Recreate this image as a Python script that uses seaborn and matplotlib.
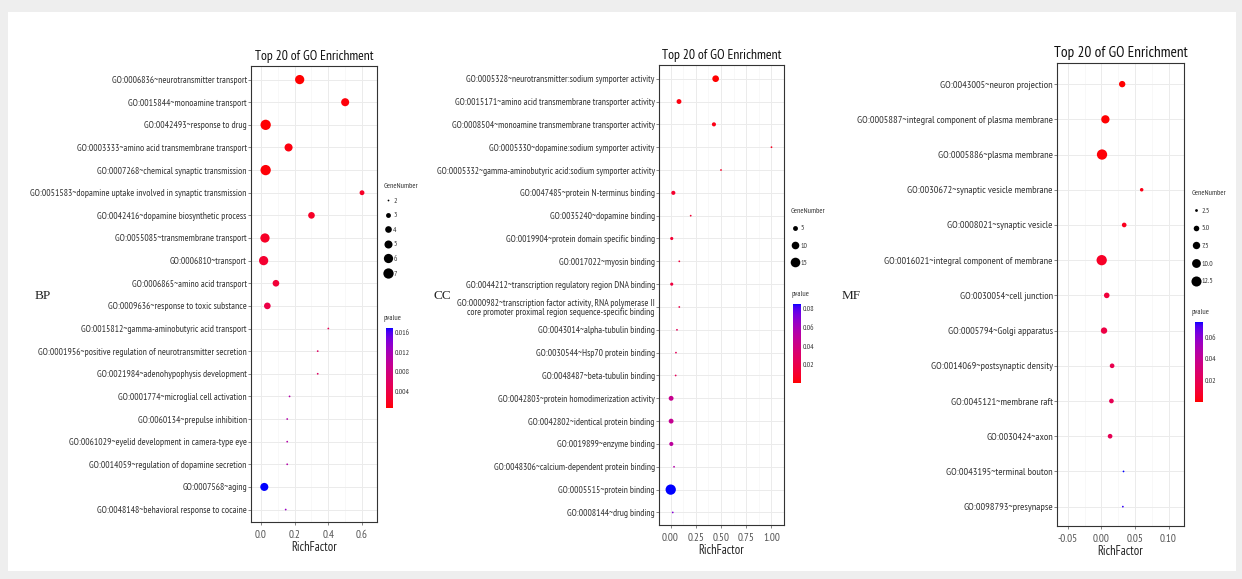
import numpy as np
import pandas as pd
import matplotlib
matplotlib.use("Agg")
import matplotlib.pyplot as plt
import matplotlib.ticker as mticker
import seaborn as sns
from matplotlib.colors import ListedColormap, Normalize
from matplotlib.cm import ScalarMappable
from matplotlib.lines import Line2D
from matplotlib.patches import Rectangle

sns.set_theme(style="white")
plt.rcParams['font.family'] = ['PT Sans Narrow', 'DejaVu Sans']

# ---------------- data ----------------
bp_terms = [
    "GO:0006836~neurotransmitter transport",
    "GO:0015844~monoamine transport",
    "GO:0042493~response to drug",
    "GO:0003333~amino acid transmembrane transport",
    "GO:0007268~chemical synaptic transmission",
    "GO:0051583~dopamine uptake involved in synaptic transmission",
    "GO:0042416~dopamine biosynthetic process",
    "GO:0055085~transmembrane transport",
    "GO:0006810~transport",
    "GO:0006865~amino acid transport",
    "GO:0009636~response to toxic substance",
    "GO:0015812~gamma-aminobutyric acid transport",
    "GO:0001956~positive regulation of neurotransmitter secretion",
    "GO:0021984~adenohypophysis development",
    "GO:0001774~microglial cell activation",
    "GO:0060134~prepulse inhibition",
    "GO:0061029~eyelid development in camera-type eye",
    "GO:0014059~regulation of dopamine secretion",
    "GO:0007568~aging",
    "GO:0048148~behavioral response to cocaine",
]
bp_rich = [0.23, 0.50, 0.028, 0.164, 0.028, 0.60, 0.30, 0.024, 0.016, 0.089,
           0.038, 0.40, 0.337, 0.337, 0.17, 0.156, 0.156, 0.156, 0.02, 0.147]
bp_genes = [6, 5, 7, 5, 7, 3, 4, 6, 6, 4, 4, 2, 2, 2, 2, 2, 2, 2, 5, 2]
bp_pvalue = [0.0005, 0.0008, 0.0006, 0.0009, 0.0007, 0.002, 0.002, 0.002, 0.0025, 0.003,
             0.004, 0.005, 0.006, 0.006, 0.011, 0.011, 0.011, 0.011, 0.017, 0.013]

cc_terms = [
    "GO:0005328~neurotransmitter:sodium symporter activity",
    "GO:0015171~amino acid transmembrane transporter activity",
    "GO:0008504~monoamine transmembrane transporter activity",
    "GO:0005330~dopamine:sodium symporter activity",
    "GO:0005332~gamma-aminobutyric acid:sodium symporter activity",
    "GO:0047485~protein N-terminus binding",
    "GO:0035240~dopamine binding",
    "GO:0019904~protein domain specific binding",
    "GO:0017022~myosin binding",
    "GO:0044212~transcription regulatory region DNA binding",
    "GO:0000982~transcription factor activity, RNA polymerase II\ncore promoter proximal region sequence-specific binding",
    "GO:0043014~alpha-tubulin binding",
    "GO:0030544~Hsp70 protein binding",
    "GO:0048487~beta-tubulin binding",
    "GO:0042803~protein homodimerization activity",
    "GO:0042802~identical protein binding",
    "GO:0019899~enzyme binding",
    "GO:0048306~calcium-dependent protein binding",
    "GO:0005515~protein binding",
    "GO:0008144~drug binding",
]
cc_rich = [0.447, 0.084, 0.43, 1.0, 0.5, 0.028, 0.2, 0.012, 0.087, 0.012,
           0.087, 0.064, 0.054, 0.051, 0.006, 0.006, 0.008, 0.035, 0.002, 0.022]
cc_genes = [8, 5, 4, 2, 2, 4, 2, 3, 2, 3, 2, 2, 2, 2, 5, 5, 4, 2, 17, 2]
cc_pvalue = [0.0007, 0.003, 0.004, 0.006, 0.008, 0.010, 0.012, 0.012, 0.015, 0.016,
             0.020, 0.025, 0.025, 0.025, 0.045, 0.046, 0.050, 0.055, 0.085, 0.070]

mf_terms = [
    "GO:0043005~neuron projection",
    "GO:0005887~integral component of plasma membrane",
    "GO:0005886~plasma membrane",
    "GO:0030672~synaptic vesicle membrane",
    "GO:0008021~synaptic vesicle",
    "GO:0016021~integral component of membrane",
    "GO:0030054~cell junction",
    "GO:0005794~Golgi apparatus",
    "GO:0014069~postsynaptic density",
    "GO:0045121~membrane raft",
    "GO:0030424~axon",
    "GO:0043195~terminal bouton",
    "GO:0098793~presynapse",
]
mf_rich = [0.031, 0.006, 0.001, 0.060, 0.034, 0.0005, 0.008, 0.004, 0.016, 0.015, 0.013, 0.033, 0.032]
mf_genes = [6, 9, 13, 3, 4, 13, 5, 6, 4, 4, 4, 2, 2]
mf_pvalue = [0.0001, 0.0005, 0.001, 0.003, 0.005, 0.007, 0.012, 0.015, 0.018, 0.020, 0.020, 0.074, 0.072]

bp_xticks = [0.0, 0.2, 0.4, 0.6]
bp_xticklabels = ["0.0", "0.2", "0.4", "0.6"]
cc_xticks = [0.0, 0.25, 0.5, 0.75, 1.0]
cc_xticklabels = ["0.00", "0.25", "0.50", "0.75", "1.00"]
mf_xticks = [-0.05, 0.0, 0.05, 0.10]
mf_xticklabels = ["-0.05", "0.00", "0.05", "0.10"]

bp_size_legend = [2, 3, 4, 5, 6, 7]
bp_size_labels = ["2", "3", "4", "5", "6", "7"]
cc_size_legend = [5, 10, 15]
cc_size_labels = ["5", "10", "15"]
mf_size_legend = [2.5, 5.0, 7.5, 10.0, 12.5]
mf_size_labels = ["2.5", "5.0", "7.5", "10.0", "12.5"]

bp_cbar_ticks = [0.004, 0.008, 0.012, 0.016]
cc_cbar_ticks = [0.02, 0.04, 0.06, 0.08]
mf_cbar_ticks = [0.02, 0.04, 0.06]

# ---------------- colour ramp (CIELAB, red -> blue like ggplot) ----------------
_M = np.array([[0.4124564, 0.3575761, 0.1804375],
               [0.2126729, 0.7151522, 0.0721750],
               [0.0193339, 0.1191920, 0.9503041]])
_WP = np.array([0.95047, 1.0, 1.08883])


def _lin(c):
    c = np.asarray(c, float)
    return np.where(c <= 0.04045, c / 12.92, ((c + 0.055) / 1.055) ** 2.4)


def _gam(c):
    c = np.clip(c, 0, None)
    return np.where(c <= 0.0031308, 12.92 * c, 1.055 * np.power(c, 1 / 2.4) - 0.055)


def rgb2lab(rgb):
    xyz = _M @ _lin(rgb) / _WP
    d = 6 / 29
    f = np.where(xyz > d ** 3, np.cbrt(xyz), xyz / (3 * d * d) + 4 / 29)
    return np.array([116 * f[1] - 16, 500 * (f[0] - f[1]), 200 * (f[1] - f[2])])


def lab2rgb(lab):
    L, a, b = lab
    fy = (L + 16) / 116
    f = np.array([fy + a / 500, fy, fy - b / 200])
    d = 6 / 29
    xyz = np.where(f > d, f ** 3, 3 * d * d * (f - 4 / 29)) * _WP
    return np.clip(_gam(np.linalg.solve(_M, xyz)), 0, 1)


_lo = rgb2lab([1, 0, 0])
_hi = rgb2lab([0, 0, 1])
cmap = ListedColormap([lab2rgb(_lo + (_hi - _lo) * t) for t in np.linspace(0, 1, 256)])

# ---------------- figure ----------------
W, H = 1242, 579
fig = plt.figure(figsize=(W / 100, H / 100), dpi=100)
fig.patch.set_facecolor('#EEEEEE')
bg = Rectangle((8 / W, 1 - 571 / H), (1236 - 8) / W, (571 - 12) / H,
               transform=fig.transFigure, facecolor='white', edgecolor='none', zorder=-100)
fig.add_artist(bg)


def box(l, t, r, b):
    return [l / W, 1 - b / H, (r - l) / W, (b - t) / H]


SMIN, SMAX = 1.6, 55.0
TXT = '#333333'
LEG = 5.5


def panel(rect, terms, rich, genes, pvals, xlim, xticks, xticklabels, ylab, tsize,
          tag, tag_xy, leg_vals, leg_labels, leg_xy, leg_spacing, pv_xy,
          cbar_rect, cbar_ticks):
    ax = fig.add_axes(box(*rect))
    ax.set_zorder(2)
    df = pd.DataFrame({'term': terms, 'RichFactor': rich,
                       'GeneNumber': genes, 'pvalue': pvals})
    gmin, gmax = min(genes), max(genes)
    pmin, pmax = min(pvals), max(pvals)
    ax.set_axisbelow(True)
    sns.scatterplot(data=df, x='RichFactor', y='term', hue='pvalue', palette=cmap,
                    hue_norm=(pmin, pmax), size='GeneNumber', sizes=(SMIN, SMAX),
                    size_norm=(gmin, gmax), legend=False, ax=ax, linewidth=0, zorder=3)
    n = len(terms)
    ax.set_ylim(n - 1 + 0.55, -0.6)
    ax.set_xlim(*xlim)
    ax.set_xticks(xticks)
    ax.set_xticklabels(xticklabels)
    ax.xaxis.set_minor_locator(mticker.AutoMinorLocator(2))
    ax.grid(which='major', axis='both', color='#EBEBEB', lw=0.7)
    ax.grid(which='minor', axis='x', color='#F5F5F5', lw=0.5)
    ax.tick_params(which='minor', length=0)
    ax.tick_params(axis='y', which='major', length=2, width=0.5, color='#555555',
                   pad=1, labelsize=ylab, labelcolor=TXT, left=True)
    ax.tick_params(axis='x', which='major', length=2, width=0.5, color='#555555',
                   pad=3.5, labelsize=8, labelcolor='#555555', bottom=True)
    for lab in ax.get_yticklabels():
        lab.set_linespacing(1.0)
    for s in ax.spines.values():
        s.set_visible(True)
        s.set_color('#333333')
        s.set_linewidth(0.8)
    ax.set_ylabel('')
    ax.set_xlabel('RichFactor', fontsize=9, color='#222222', labelpad=1)
    ax.set_title('Top 20 of GO Enrichment', fontsize=tsize, color='#111111', pad=4)
    fig.text(tag_xy[0] / W, 1 - tag_xy[1] / H, tag, family='Liberation Serif',
             fontsize=9.5, color='#222222', va='center', ha='left')

    # size legend
    handles = []
    for v in leg_vals:
        s = SMIN + (v - gmin) / (gmax - gmin) * (SMAX - SMIN)
        handles.append(Line2D([], [], marker='o', ls='', color='black',
                              markersize=np.sqrt(max(s, 0.5)), markeredgewidth=0))
    lg = fig.legend(handles, leg_labels, title='GeneNumber', loc='upper left',
                    bbox_to_anchor=(leg_xy[0] / W, 1 - leg_xy[1] / H),
                    frameon=False, fontsize=LEG, title_fontsize=LEG,
                    handletextpad=0.2, labelspacing=leg_spacing, borderpad=0,
                    handlelength=1.0, borderaxespad=0, alignment='left')
    for t in lg.get_texts():
        t.set_color(TXT)
    lg.get_title().set_color(TXT)

    # colour bar
    cax = fig.add_axes(box(*cbar_rect))
    cax.set_zorder(2)
    cb = fig.colorbar(ScalarMappable(norm=Normalize(pmin, pmax), cmap=cmap), cax=cax)
    cb.outline.set_visible(False)
    cb.set_ticks(cbar_ticks)
    cb.set_ticklabels(["%g" % t for t in cbar_ticks])
    cax.tick_params(length=2, width=0.4, color='white', direction='in',
                    labelsize=LEG, labelcolor=TXT, pad=1.5, right=True, left=False,
                    labelright=True, labelleft=False)
    fig.text(pv_xy[0] / W, 1 - pv_xy[1] / H, 'pvalue', fontsize=LEG,
             color=TXT, va='center', ha='left')
    return ax


panel((251, 66, 377, 522), bp_terms, bp_rich, bp_genes, bp_pvalue,
      (-0.059, 0.689), bp_xticks, bp_xticklabels, 6.9, 9.8,
      'BP', (35, 296), bp_size_legend, bp_size_labels, (384, 183), 0.95, (384, 319),
      (386, 328, 393, 408), bp_cbar_ticks)

panel((659, 65, 784, 525), cc_terms, cc_rich, cc_genes, cc_pvalue,
      (-0.114, 1.124), cc_xticks, cc_xticklabels, 6.8, 9.9,
      'CC', (433, 296), cc_size_legend, cc_size_labels, (791, 208), 1.3, (791, 295),
      (793, 304, 801, 383), cc_cbar_ticks)

panel((1057, 63, 1184, 526), mf_terms, mf_rich, mf_genes, mf_pvalue,
      (-0.066, 0.123), mf_xticks, mf_xticklabels, 7.4, 11.0,
      'MF', (842, 296), mf_size_legend, mf_size_labels, (1192, 190), 1.35, (1192, 313),
      (1195, 322, 1203, 402), mf_cbar_ticks)

fig.savefig('out.png', dpi=100, facecolor=fig.get_facecolor())
